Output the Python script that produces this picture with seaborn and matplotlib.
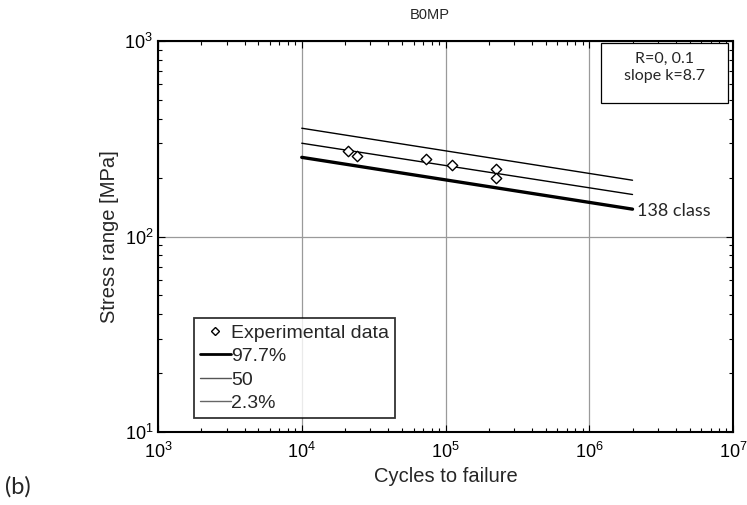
import numpy as np
import pandas as pd
import matplotlib
matplotlib.use("Agg")
import matplotlib.pyplot as plt
from matplotlib.lines import Line2D
from matplotlib.patches import Rectangle
from matplotlib.ticker import LogLocator, NullFormatter
import seaborn as sns

# Experimental fatigue results (cycles, stress range in MPa)
exp_cycles = [2.1e4, 2.42e4, 7.34e4, 1.107e5, 2.25e5, 2.26e5]
exp_stress = [273, 258, 249, 233, 221, 200]

# Design S-N curves, endpoints at 1e4 and 2e6 cycles
curve_cycles = [1e4, 2e6]
curve_977 = [254, 138]   # 97.7 % survival (detail class 138)
curve_50 = [300, 164]    # 50 % survival
curve_23 = [358, 194]    # 2.3 % survival

sns.set_theme(style="white")
plt.rcParams["font.family"] = ["Liberation Sans", "DejaVu Sans"]
plt.rcParams["mathtext.default"] = "regular"

fig = plt.figure(figsize=(7.47, 5.05), dpi=100)
ax = fig.add_axes([158 / 747, 1 - 432 / 505, (733 - 158) / 747, (432 - 41) / 505])

exp_df = pd.DataFrame({"cycles": exp_cycles, "stress": exp_stress})
curves = pd.DataFrame({
    "cycles": curve_cycles * 3,
    "stress": curve_977 + curve_50 + curve_23,
    "curve": ["97.7%"] * 2 + ["50"] * 2 + ["2.3%"] * 2,
})

ax.set_xscale("log")
ax.set_yscale("log")

for name, lw in [("97.7%", 2.4), ("50", 1.0), ("2.3%", 1.0)]:
    sub = curves[curves["curve"] == name]
    sns.lineplot(data=sub, x="cycles", y="stress", ax=ax, color="black",
                 linewidth=lw, legend=False, zorder=3)

sns.scatterplot(data=exp_df, x="cycles", y="stress", ax=ax, marker="D",
                s=28, facecolor="white", edgecolor="black", linewidth=1.0,
                legend=False, zorder=4)

ax.set_xlim(1e3, 1e7)
ax.set_ylim(1e1, 1e3)

ax.xaxis.set_major_locator(LogLocator(base=10, numticks=10))
ax.yaxis.set_major_locator(LogLocator(base=10, numticks=10))
ax.xaxis.set_minor_locator(LogLocator(base=10, subs=np.arange(2, 10), numticks=20))
ax.yaxis.set_minor_locator(LogLocator(base=10, subs=np.arange(2, 10), numticks=20))
ax.xaxis.set_minor_formatter(NullFormatter())
ax.yaxis.set_minor_formatter(NullFormatter())

ax.grid(True, which="major", color="#9a9a9a", linewidth=0.9)
ax.grid(False, which="minor")
ax.set_axisbelow(True)

ax.tick_params(which="both", direction="in", top=True, right=True,
               bottom=True, left=True, colors="black", labelsize=13)
ax.tick_params(which="major", length=5, width=0.8)
ax.tick_params(which="minor", length=3, width=0.8)
ax.tick_params(axis="x", pad=7)
for sp in ax.spines.values():
    sp.set_color("black")
    sp.set_linewidth(1.5)

ax.set_xlabel("Cycles to failure", fontsize=14.5, labelpad=4)
ax.set_ylabel("Stress range [MPa]", fontsize=14.5, labelpad=4)
fig.text(430 / 747, 1 - 15 / 505, "B0MP", fontsize=10.5, ha="center", va="center")

ax.text(curve_cycles[1] * 1.07, curve_977[1] * 0.975, "138 class",
        family=["Lato", "DejaVu Sans"], fontsize=13, ha="left", va="center")

# Test conditions box
ax.add_patch(Rectangle((0.770, 0.842), 0.221, 0.153, transform=ax.transAxes,
                       facecolor="white", edgecolor="black", linewidth=0.9,
                       zorder=5))
ax.text(0.881, 0.955, "R=0, 0.1", transform=ax.transAxes, ha="center",
        va="center", family=["Lato", "DejaVu Sans"], fontsize=11.5, zorder=6)
ax.text(0.881, 0.910, "slope k=8.7", transform=ax.transAxes, ha="center",
        va="center", family=["Lato", "DejaVu Sans"], fontsize=11.5, zorder=6)

handles = [
    Line2D([], [], linestyle="none", marker="D", markersize=4.5,
           markerfacecolor="white", markeredgecolor="black"),
    Line2D([], [], color="black", linewidth=2.0),
    Line2D([], [], color="#555555", linewidth=1.0),
    Line2D([], [], color="#666666", linewidth=1.0),
]
leg = ax.legend(handles, ["Experimental data", "97.7%", "50", "2.3%"],
                loc="lower left", bbox_to_anchor=(0.0626, 0.036),
                borderaxespad=0, fontsize=14, frameon=True, fancybox=False,
                handlelength=1.6, handletextpad=0.0, labelspacing=0.3,
                borderpad=0.3)
leg.get_frame().set_edgecolor("black")
leg.get_frame().set_linewidth(1.3)
leg.set_zorder(7)

fig.text(5 / 747, 1 - 487 / 505, "(b)", family=["Lato", "DejaVu Sans"],
         fontsize=17, ha="left", va="center")

fig.savefig("out.png", dpi=100)
